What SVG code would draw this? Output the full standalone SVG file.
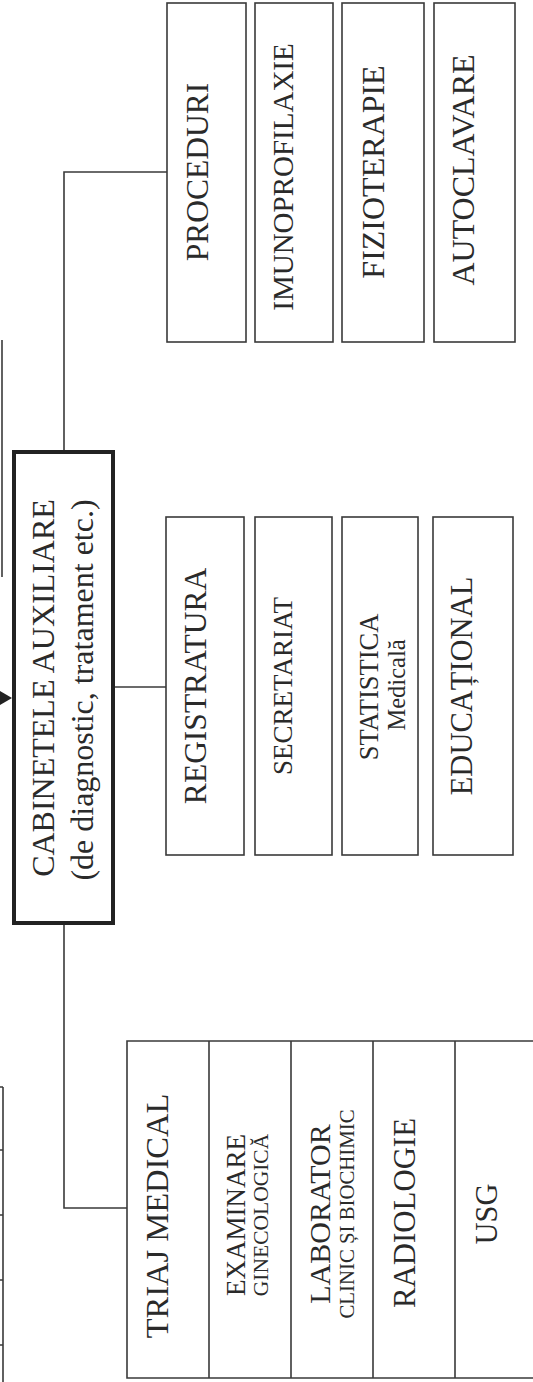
<svg xmlns="http://www.w3.org/2000/svg" width="533" height="1382" viewBox="0 0 533 1382">
<style>
.box{fill:#fff;stroke:#3a3a3a;stroke-width:1.6}
.main{fill:#fff;stroke:#222;stroke-width:4}
.ln{fill:none;stroke:#3a3a3a;stroke-width:1.6}
text{font-family:"Liberation Serif","Times New Roman",serif;fill:#2a2a2a;text-anchor:middle}
</style>
<rect width="533" height="1382" fill="#fff"/>
<g id="connectors">
<path class="ln" d="M64 450 V172 H167"/>
<path class="ln" d="M115 687 H166"/>
<path class="ln" d="M64 925 V1208 H127"/>
<path class="ln" d="M2 340 V577"/>
<polygon points="0,691 12,698 0,705" fill="#222"/>
<path class="ln" d="M3 1087 V1382 M0 1087 H3 M0 1150 H3 M0 1215 H3 M0 1280 H3 M0 1345 H3"/>
</g>
<g id="main">
<rect class="main" x="14" y="452" width="99" height="471"/>
<text transform="translate(54,688) rotate(-90)" font-size="32">CABINETELE AUXILIARE</text>
<text transform="translate(93,690) rotate(-90)" font-size="32">(de diagnostic, tratament etc.)</text>
</g>
<g id="proceduri">
<rect class="box" x="167" y="3" width="79" height="339"/>
<text transform="translate(208,172) rotate(-90)" font-size="31.5">PROCEDURI</text>
</g>
<g id="imunoprofilaxie">
<rect class="box" x="255" y="3" width="78" height="339"/>
<text transform="translate(293,177) rotate(-90)" font-size="29">IMUNOPROFILAXIE</text>
</g>
<g id="fizioterapie">
<rect class="box" x="342" y="3" width="82" height="339"/>
<text transform="translate(384,172) rotate(-90)" font-size="32">FIZIOTERAPIE</text>
</g>
<g id="autoclavare">
<rect class="box" x="434" y="3" width="81" height="339"/>
<text transform="translate(474,170) rotate(-90)" font-size="32">AUTOCLAVARE</text>
</g>
<g id="registratura">
<rect class="box" x="166" y="517" width="78" height="338"/>
<text transform="translate(206,686) rotate(-90)" font-size="31.5">REGISTRATURA</text>
</g>
<g id="secretariat">
<rect class="box" x="255" y="517" width="77" height="338"/>
<text transform="translate(292,686) rotate(-90)" font-size="27">SECRETARIAT</text>
</g>
<g id="statistica">
<rect class="box" x="342" y="517" width="76" height="338"/>
<text transform="translate(378,687) rotate(-90)" font-size="26.5">STATISTICA</text>
<text transform="translate(405,685) rotate(-90)" font-size="24.5">Medicală</text>
</g>
<g id="educational">
<rect class="box" x="433" y="517" width="80" height="338"/>
<text transform="translate(472,686) rotate(-90)" font-size="30.5">EDUCAȚIONAL</text>
</g>
<g id="tabel">
<path class="ln" d="M540 1041 H127 V1378 H540 M209 1041 V1378 M291 1041 V1378 M373 1041 V1378 M455 1041 V1378"/>
</g>
<g id="triaj">
<text transform="translate(168,1216) rotate(-90)" font-size="32.5">TRIAJ MEDICAL</text>
</g>
<g id="examinare">
<text transform="translate(245,1215) rotate(-90)" font-size="27">EXAMINARE</text>
<text transform="translate(268,1215) rotate(-90)" font-size="21.5">GINECOLOGICĂ</text>
</g>
<g id="laborator">
<text transform="translate(330,1214) rotate(-90)" font-size="30">LABORATOR</text>
<text transform="translate(354,1214) rotate(-90)" font-size="20.8">CLINIC ȘI BIOCHIMIC</text>
</g>
<g id="radiologie">
<text transform="translate(415,1213) rotate(-90)" font-size="30.8">RADIOLOGIE</text>
</g>
<g id="usg">
<text transform="translate(497,1214) rotate(-90)" font-size="30.5">USG</text>
</g>
</svg>
